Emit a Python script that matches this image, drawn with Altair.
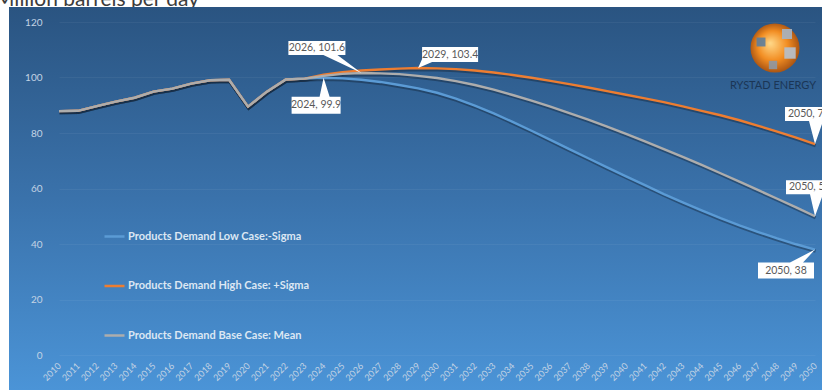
import altair as alt
import pandas as pd

# ---------------- data ----------------
years = [2010, 2011, 2012, 2013, 2014, 2015, 2016, 2017, 2018, 2019, 2020,
         2021, 2022, 2023, 2024, 2025, 2026, 2027, 2028, 2029, 2030, 2031,
         2032, 2033, 2034, 2035, 2036, 2037, 2038, 2039, 2040, 2041, 2042,
         2043, 2044, 2045, 2046, 2047, 2048, 2049, 2050]

# shared history 2010-2023
history = [87.9, 88.0, 89.7, 91.3, 92.7, 94.9, 96.0, 97.8, 99.0, 99.2,
           89.5, 94.9, 99.3, 99.6]

# projections 2024-2050
low_proj = [99.9, 99.7, 99.2, 98.4, 97.3, 96.1, 94.5, 92.4, 89.9, 87.1,
            84.0, 80.8, 77.5, 74.2, 70.9, 67.6, 64.4, 61.2, 58.0, 55.0,
            52.1, 49.3, 46.7, 44.3, 42.0, 39.9, 38.0]
high_proj = [101.0, 101.9, 102.5, 102.9, 103.2, 103.4, 103.3, 103.0, 102.5,
             101.8, 100.9, 99.9, 98.8, 97.6, 96.4, 95.1, 93.8, 92.5, 91.1,
             89.6, 88.0, 86.4, 84.6, 82.6, 80.5, 78.3, 76.0]
base_proj = [100.6, 101.3, 101.6, 101.5, 101.2, 100.6, 99.8, 98.7, 97.3,
             95.6, 93.7, 91.7, 89.5, 87.2, 84.8, 82.3, 79.7, 77.0, 74.2,
             71.4, 68.5, 65.5, 62.5, 59.4, 56.3, 53.2, 50.0]

series_names = ["Products Demand Low Case:-Sigma",
                "Products Demand High Case: +Sigma",
                "Products Demand Base Case: Mean"]
series_colors = ["#5b9bd5", "#ed7d31", "#adadad"]

y_ticks = [0, 20, 40, 60, 80, 100, 120]

ann_years = [2026, 2029, 2024, 2050, 2050, 2050]
ann_values = [101.6, 103.4, 99.9, 76, 50, 38]
ann_labels = ["2026, 101.6", "2029, 103.4", "2024, 99.9",
              "2050, 76", "2050, 50", "2050, 38"]

# ---------------- build table ----------------
rows = []
for name, proj in zip(series_names, [low_proj, high_proj, base_proj]):
    vals = history + proj
    for yr, v in zip(years, vals):
        rows.append({"year": yr, "value": v, "series": name})
df = pd.DataFrame(rows)

W, H = 756, 333
FONT = "Lato"

xenc = alt.X("year:Q",
             scale=alt.Scale(domain=[2010, 2050], nice=False, zero=False),
             axis=alt.Axis(values=years, format="d", labelAngle=-45,
                           labelAlign="right", labelBaseline="middle",
                           labelPadding=9, labelFontSize=9,
                           labelColor="#c3d3e4", labelFont=FONT,
                           ticks=False, domain=False, grid=False,
                           labelOverlap=False, labelFlush=False,
                           labelBound=False, title=None, zindex=1))
yenc = alt.Y("value:Q",
             scale=alt.Scale(domain=[0, 120], nice=False),
             axis=alt.Axis(values=y_ticks, labelPadding=17, labelFontSize=10,
                           labelColor="#c3d3e4", labelFont=FONT,
                           ticks=False, domain=False, grid=True,
                           gridColor="#ffffff", gridOpacity=0.05,
                           title=None, zindex=1))

one = pd.DataFrame({"a": [0]})

# title (cut at top like the reference)
title = alt.Chart(one).mark_text(
    align="left", baseline="alphabetic", fontSize=21, font=FONT,
    color="#3c3c3c", text="Million barrels per day"
).encode(x=alt.value(-64), y=alt.value(-16))

# background panel with vertical gradient
panel = alt.Chart(one).mark_rect(
    fill=alt.LinearGradient(
        gradient="linear",
        stops=[alt.GradientStop(offset=0, color="#2a5481"),
               alt.GradientStop(offset=0.5, color="#3a72ab"),
               alt.GradientStop(offset=1, color="#4b94d7")],
        x1=0, x2=0, y1=0, y2=1)
).encode(x=alt.value(-50), x2=alt.value(W + 7),
         y=alt.value(-15), y2=alt.value(H + 35))

shadow = alt.Chart(df).mark_line(
    color="#14253a", opacity=0.45, strokeWidth=3.2, yOffset=1.6, xOffset=0.6
).encode(x=xenc, y=yenc, detail="series:N")

lines = alt.Chart(df).mark_line(strokeWidth=2.4).encode(
    x=xenc, y=yenc,
    color=alt.Color("series:N",
                    scale=alt.Scale(domain=series_names, range=series_colors),
                    legend=alt.Legend(orient="none", legendX=44, legendY=203,
                                      symbolType="stroke", symbolSize=400,
                                      symbolStrokeWidth=2.5, labelFont=FONT,
                                      labelFontWeight="bold", labelFontSize=11,
                                      labelColor="#dce7f3", rowPadding=32.5,
                                      labelOffset=2, title=None, padding=0,
                                      labelLimit=400)),
)

# callout shapes: tip at the data point, pixel units (size=4 -> scale 1)
callout_paths = [
    "M-73,-32 L-16,-32 L-16,-18 L-24,-18 L0,0 L-38,-18 L-73,-18 Z",
    "M4,-21 L60,-21 L60,-6 L14,-6 L0,0 L4,-9 Z",
    "M-32,19 L-4,19 L0,0 L6,19 L17,19 L17,36 L-32,36 Z",
    "M-30,-37 L30,-37 L30,-23 L8,-23 L0,0 L-6,-23 L-30,-23 Z",
    "M-29,-36 L30,-36 L30,-22 L8,-22 L0,0 L-5,-22 L-29,-22 Z",
    "M-57,13 L-25,13 L0,0 L-12,13 L-1,13 L-1,29 L-57,29 Z",
]
text_offsets = [(-44.5, -25, "center"), (32, -13.5, "center"),
                (-7.5, 27.5, "center"), (-27, -30, "left"),
                (-26, -29, "left"), (-29, 21, "center")]

ann_xenc = alt.X("year:Q", axis=None)
ann_yenc = alt.Y("value:Q", axis=None)

ann_layers = []
for i in range(len(ann_labels)):
    d = pd.DataFrame({"year": [ann_years[i]], "value": [ann_values[i]],
                      "label": [ann_labels[i]]})
    box = alt.Chart(d).mark_point(
        shape=callout_paths[i], size=4, filled=True, fill="white",
        opacity=1, strokeWidth=0
    ).encode(x=xenc, y=yenc)
    dx, dy, al = text_offsets[i]
    txt = alt.Chart(d).mark_text(
        dx=dx, dy=dy, align=al, baseline="middle", fontSize=10.5,
        font=FONT, color="#595959"
    ).encode(x=xenc, y=yenc, text="label:N")
    ann_layers += [box, txt]

# Rystad logo
globe = alt.Chart(one).mark_point(
    shape="circle", size=2400, filled=True, opacity=1, strokeWidth=0,
    fill=alt.RadialGradient(
        gradient="radial",
        stops=[alt.GradientStop(offset=0, color="#ffd98a"),
               alt.GradientStop(offset=0.55, color="#f28d22"),
               alt.GradientStop(offset=1, color="#9c4a10")],
        x1=0.4, y1=0.4, r1=0, x2=0.5, y2=0.5, r2=0.55)
).encode(x=alt.value(716), y=alt.value(26))
patch1 = alt.Chart(one).mark_point(shape="square", size=100, filled=True,
                                   color="#a9b1ba", opacity=0.95
                                   ).encode(x=alt.value(728), y=alt.value(12))
patch2 = alt.Chart(one).mark_point(shape="square", size=130, filled=True,
                                   color="#b7bec6", opacity=0.95
                                   ).encode(x=alt.value(731), y=alt.value(31))
patch3 = alt.Chart(one).mark_point(shape="square", size=80, filled=True,
                                   color="#5d7d9c", opacity=0.9
                                   ).encode(x=alt.value(702), y=alt.value(20))
patch4 = alt.Chart(one).mark_point(shape="square", size=70, filled=True,
                                   color="#8e98a3", opacity=0.9
                                   ).encode(x=alt.value(714), y=alt.value(43))
logo_text = alt.Chart(one).mark_text(
    text="RYSTAD ENERGY", fontSize=11, font=FONT, color="#1b3656",
    align="center", baseline="middle"
).encode(x=alt.value(714), y=alt.value(64))

chart = alt.layer(
    title, panel, shadow, lines, *ann_layers,
    globe, patch1, patch2, patch3, patch4, logo_text
).properties(
    width=W, height=H,
    autosize=alt.AutoSizeParams(type="none"),
    padding={"left": 59, "top": 22, "right": 7, "bottom": 35},
    background="white"
).configure_view(stroke=None).configure_axis(labelOverlap=False)

chart.save("out.html", embed_options={"renderer": "svg", "actions": False})
